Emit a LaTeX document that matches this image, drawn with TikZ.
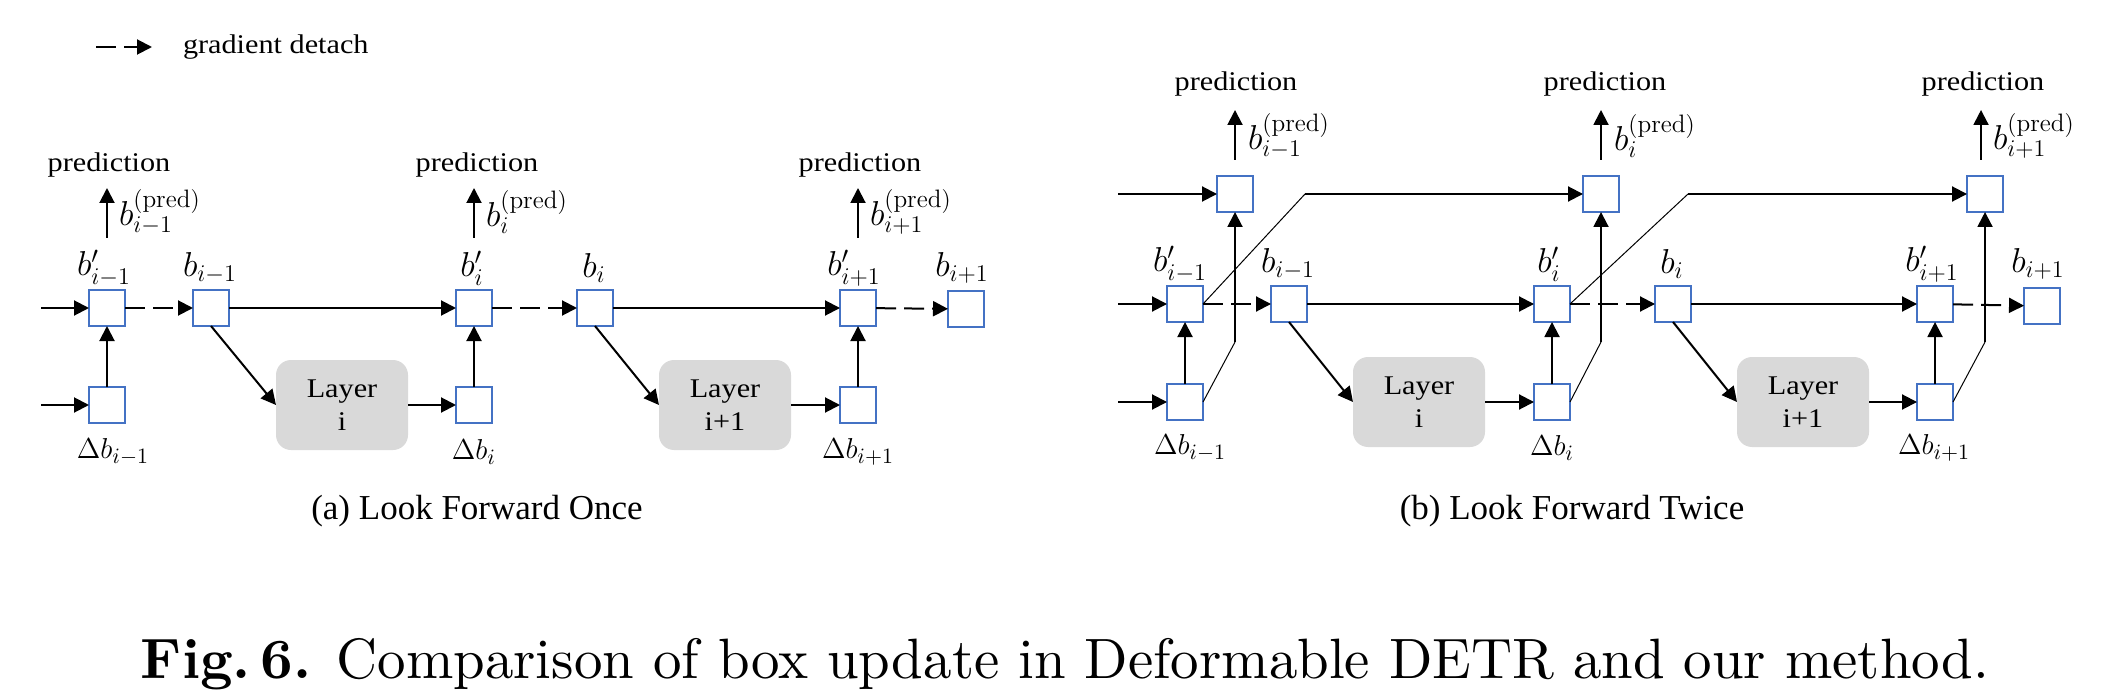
\documentclass[tikz,border=0pt]{standalone}
\usepackage{fontspec}
\usepackage{graphicx}
\usetikzlibrary{arrows.meta}
\newfontfamily\tnr[FakeStretch=1.12]{Liberation Serif}
\newfontfamily\tnrcap{Liberation Serif}
\definecolor{boxblue}{HTML}{4472C4}
\definecolor{layergray}{HTML}{D9D9D9}
\begin{document}
\begin{tikzpicture}[x=0.5pt,y=-0.5pt,
  every node/.style={inner sep=0pt, outer sep=0pt},
  bx/.style={draw=boxblue, line width=1pt, fill=white, minimum width=18pt, minimum height=18pt},
  layer/.style={fill=layergray, rounded corners=7.5pt, minimum width=66pt, minimum height=45pt, align=center, font=\tnr\fontsize{13.5}{16.5}\selectfont},
  txt/.style={font=\tnr\fontsize{13.5}{16}\selectfont},
  captxt/.style={font=\tnrcap\fontsize{17.5}{20}\selectfont},
  lbl/.style={font=\fontsize{16.5}{19}\selectfont},
  dlbl/.style={font=\fontsize{15}{18}\selectfont},
  plbl/.style={font=\fontsize{18}{21}\selectfont},
  arr/.style={line width=1pt, -{Triangle[length=7.5pt,width=7.5pt]}},
  darr/.style={arr, dash pattern=on 10pt off 4pt},
  thinline/.style={line width=0.5pt},
]
\path[use as bounding box] (0,0) rectangle (2108,700);

% legend
\coordinate (lgA) at (96,47);
\coordinate (lgB) at (152,47);
\draw[darr] (lgA) -- (lgB);
\node[txt, anchor=west] (lgT) at (183,47) {gradient detach};

% ================= panel (a) =================
\node[bx] (aBp1) at (107,308) {};
\node[bx] (aB1)  at (211,308) {};
\node[bx] (aBp2) at (474,308) {};
\node[bx] (aB2)  at (595,308) {};
\node[bx] (aBp3) at (858,308) {};
\node[bx] (aB3)  at (966,309) {};
\node[bx] (aD1)  at (107,405) {};
\node[bx] (aD2)  at (474,405) {};
\node[bx] (aD3)  at (858,405) {};
\node[layer] (aL1) at (342,405) {Layer\\i};
\node[layer] (aL2) at (725,405) {Layer\\i+1};

\coordinate (aIn1) at (41,308);
\coordinate (aIn2) at (41,405);
\draw[arr] (aIn1) -- (aBp1);
\draw[arr] (aIn2) -- (aD1);
\draw[arr] (aD1) -- (aBp1);
\draw[darr] (aBp1) -- (aB1);
\draw[arr] (aB1) -- (aBp2);
\draw[arr] (aB1.south) -- (aL1.west);
\draw[arr] (aL1) -- (aD2);
\draw[arr] (aD2) -- (aBp2);
\draw[darr] (aBp2) -- (aB2);
\draw[arr] (aB2) -- (aBp3);
\draw[arr] (aB2.south) -- (aL2.west);
\draw[arr] (aL2) -- (aD3);
\draw[arr] (aD3) -- (aBp3);
\draw[darr] (aBp3) -- (aB3);

% labels (a)
\node[lbl] (aLbp1) at (104,268) {$b'_{i-1}$};
\node[lbl] (aLb1)  at (210,268) {$b_{i-1}$};
\node[lbl] (aLbp2) at (472,268) {$b'_{i}$};
\node[lbl] (aLb2)  at (594,268) {$b_{i}$};
\node[lbl] (aLbp3) at (854,268) {$b'_{i+1}$};
\node[lbl] (aLb3)  at (962,268) {$b_{i+1}$};
\node[dlbl] (aLd1)  at (113,452) {$\Delta b_{i-1}$};
\node[dlbl] (aLd2)  at (474,452) {$\Delta b_{i}$};
\node[dlbl] (aLd3)  at (858,452) {$\Delta b_{i+1}$};

% predictions (a)
\coordinate (aPs1) at (107,238); \coordinate (aPe1) at (107,188);
\coordinate (aPs2) at (474,238); \coordinate (aPe2) at (474,188);
\coordinate (aPs3) at (858,238); \coordinate (aPe3) at (858,188);
\draw[arr] (aPs1) -- (aPe1);
\draw[arr] (aPs2) -- (aPe2);
\draw[arr] (aPs3) -- (aPe3);
\node[plbl, anchor=west] (aPl1) at (119,212) {$b_{i-1}^{(\mathrm{pred})}$};
\node[plbl, anchor=west] (aPl2) at (486,212) {$b_{i}^{(\mathrm{pred})}$};
\node[plbl, anchor=west] (aPl3) at (870,212) {$b_{i+1}^{(\mathrm{pred})}$};
\node[txt] (aPt1) at (109,165) {prediction};
\node[txt] (aPt2) at (477,165) {prediction};
\node[txt] (aPt3) at (860,165) {prediction};

\node[captxt] (aCap) at (477,511) {(a) Look Forward Once};

% ================= panel (b) =================
\node[bx] (bT1)  at (1235,194) {};
\node[bx] (bT2)  at (1601,194) {};
\node[bx] (bT3)  at (1985,194) {};
\node[bx] (bBp1) at (1185,304) {};
\node[bx] (bB1)  at (1289,304) {};
\node[bx] (bBp2) at (1552,304) {};
\node[bx] (bB2)  at (1673,304) {};
\node[bx] (bBp3) at (1935,304) {};
\node[bx] (bB3)  at (2042,306) {};
\node[bx] (bD1)  at (1185,402) {};
\node[bx] (bD2)  at (1552,402) {};
\node[bx] (bD3)  at (1935,402) {};
\node[layer] (bL1) at (1419,402) {Layer\\i};
\node[layer] (bL2) at (1803,402) {Layer\\i+1};

\coordinate (bIn0) at (1118,194);
\coordinate (bIn1) at (1118,304);
\coordinate (bIn2) at (1118,402);
\draw[arr] (bIn0) -- (bT1);
\draw[arr] (bIn1) -- (bBp1);
\draw[arr] (bIn2) -- (bD1);

\draw[arr] (bD1) -- (bBp1);
\draw[darr] (bBp1) -- (bB1);
\draw[arr] (bB1) -- (bBp2);
\draw[arr] (bB1.south) -- (bL1.west);
\draw[arr] (bL1) -- (bD2);
\draw[arr] (bD2) -- (bBp2);
\draw[darr] (bBp2) -- (bB2);
\draw[arr] (bB2) -- (bBp3);
\draw[arr] (bB2.south) -- (bL2.west);
\draw[arr] (bL2) -- (bD3);
\draw[arr] (bD3) -- (bBp3);
\draw[darr] (bBp3) -- (bB3);

% look-forward-twice connections
\coordinate (bV1) at (1235,342);
\coordinate (bV2) at (1601,342);
\coordinate (bV3) at (1985,342);
\draw[thinline] (bD1.east) -- (bV1);
\draw[thinline] (bD2.east) -- (bV2);
\draw[thinline] (bD3.east) -- (bV3);
\draw[arr] (bV1) -- (bT1);
\draw[arr] (bV2) -- (bT2);
\draw[arr] (bV3) -- (bT3);
\coordinate (bK1) at (1305,194);
\coordinate (bK2) at (1688,194);
\draw[thinline] (bBp1.east) -- (bK1);
\draw[thinline] (bBp2.east) -- (bK2);
\draw[arr] (bK1) -- (bT2);
\draw[arr] (bK2) -- (bT3);

% labels (b)
\node[lbl] (bLbp1) at (1180,264) {$b'_{i-1}$};
\node[lbl] (bLb1)  at (1288,264) {$b_{i-1}$};
\node[lbl] (bLbp2) at (1549,264) {$b'_{i}$};
\node[lbl] (bLb2)  at (1672,264) {$b_{i}$};
\node[lbl] (bLbp3) at (1932,264) {$b'_{i+1}$};
\node[lbl] (bLb3)  at (2038,264) {$b_{i+1}$};
\node[dlbl] (bLd1)  at (1190,448) {$\Delta b_{i-1}$};
\node[dlbl] (bLd2)  at (1552,448) {$\Delta b_{i}$};
\node[dlbl] (bLd3)  at (1934,448) {$\Delta b_{i+1}$};

% predictions (b)
\coordinate (bPs1) at (1235,160); \coordinate (bPe1) at (1235,110);
\coordinate (bPs2) at (1601,160); \coordinate (bPe2) at (1601,110);
\coordinate (bPs3) at (1981,160); \coordinate (bPe3) at (1981,110);
\draw[arr] (bPs1) -- (bPe1);
\draw[arr] (bPs2) -- (bPe2);
\draw[arr] (bPs3) -- (bPe3);
\node[plbl, anchor=west] (bPl1) at (1248,136) {$b_{i-1}^{(\mathrm{pred})}$};
\node[plbl, anchor=west] (bPl2) at (1614,136) {$b_{i}^{(\mathrm{pred})}$};
\node[plbl, anchor=west] (bPl3) at (1993,136) {$b_{i+1}^{(\mathrm{pred})}$};
\node[txt] (bPt1) at (1236,84) {prediction};
\node[txt] (bPt2) at (1605,84) {prediction};
\node[txt] (bPt3) at (1983,84) {prediction};

\node[captxt] (bCap) at (1572,511) {(b) Look Forward Twice};

% figure caption
\node (figCap) at (1065,664) {\resizebox{924pt}{!}{\textbf{Fig.\,6.} Comparison of box update in Deformable DETR and our method.}};
\end{tikzpicture}
\end{document}
